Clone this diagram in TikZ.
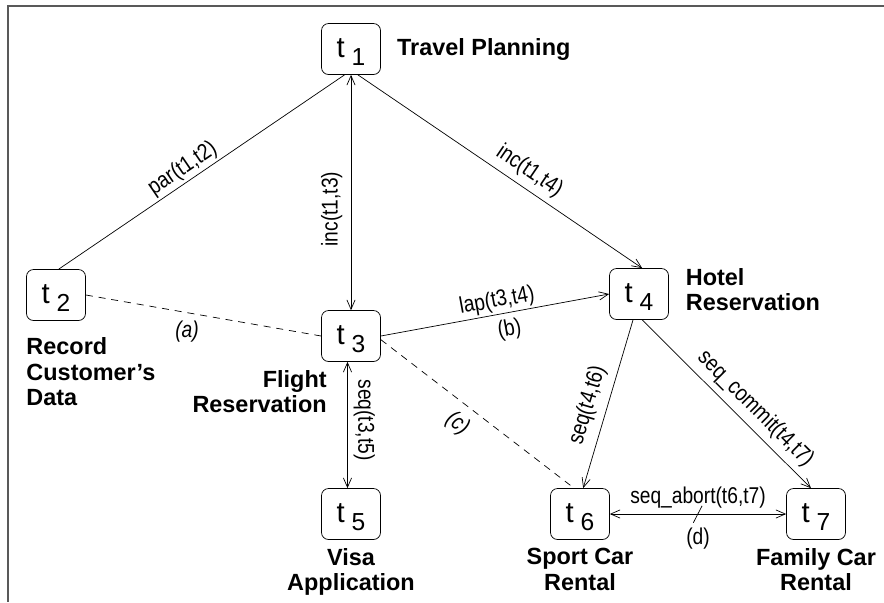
\documentclass[tikz,border=0pt]{standalone}
\usepackage{fontspec}
\setmainfont{Liberation Sans}
\newfontfamily\relfont[FakeStretch=0.84]{Liberation Sans}
\usetikzlibrary{positioning,arrows.meta}

\newcommand*{\tsub}[1]{{\fontsize{25}{27}\selectfont t}~\raisebox{-6.5pt}{#1}}

\begin{document}
\begin{tikzpicture}
[
	x=0.03cm, y=-0.03cm,
	>={Straight Barb[length=8pt,width=7pt]},
	line width=0.6pt,
	task/.style={draw,rounded corners=6pt,minimum width=1.77cm,minimum height=1.53cm,inner sep=0pt,
		text height=21pt,text depth=6pt,font=\fontsize{21}{24}\selectfont},
	taskname/.style={inner sep=0pt,font=\bfseries\fontsize{20}{21.5}\selectfont},
	rel/.style={inner sep=2pt,font=\relfont\fontsize{19.5}{21}\selectfont},
	conflict/.style={inner sep=2pt,font=\relfont\itshape\fontsize{19.5}{21}\selectfont},
	weak/.style={dash pattern=on 6pt off 5pt}
]
	\useasboundingbox (0,0) rectangle (884,602);

	% frame
	\draw[line width=1.4pt, black!65] (884,6) -- (8,6) -- (8,602);

	% tasks
	\node[task] (t1) at (351,49) {\tsub{1}};
	\node[task] (t2) at (56,295) {\tsub{2}};
	\node[task] (t3) at (351,336) {\tsub{3}};
	\node[task] (t4) at (639,294) {\tsub{4}};
	\node[task] (t5) at (351,514) {\tsub{5}};
	\node[task] (t6) at (580,514) {\tsub{6}};
	\node[task] (t7) at (816,514) {\tsub{7}};

	% task names
	\node[taskname, right=0.48cm of t1] (n1) {Travel Planning};
	\node[taskname, align=left, below=0.5cm of t2.south west, anchor=north west] (n2) {Record\\Customer's\\Data};
	\node[taskname, align=right, below=0.25cm of t3.south west, anchor=north east, xshift=5pt] (n3) {Flight\\Reservation};
	\node[taskname, align=left, right=0.5cm of t4, yshift=4pt] (n4) {Hotel\\Reservation};
	\node[taskname, align=center, below=0.25cm of t5] (n5) {Visa\\Application};
	\node[taskname, align=center, below=0.25cm of t6] (n6) {Sport Car\\Rental};
	\node[taskname, align=center, below=0.25cm of t7] (n7) {Family Car\\Rental};

	% relations
	\draw (t2.84) -- node[rel, sloped, above, pos=0.46] {par(t1,t2)} (t1.256);
	\draw[<->] (t3.north) -- node[rel, sloped, above=5pt, pos=0.43] {inc(t1,t3)} (t1.south);
	\draw[->] (t1.-75) -- node[rel, sloped, above=3pt, pos=0.57] {inc(t1,t4)} (t4.83);
	\draw[->] (t3.east) -- node[rel, sloped, above, pos=0.52] {lap(t3,t4)} node[rel, sloped, below=3pt, pos=0.55] {(b)} (t4.west);
	\draw[<->] ([xshift=-3pt]t3.south) -- node[rel, sloped, above=3pt, pos=0.46] {seq(t3,t5)} ([xshift=-3pt]t5.north);
	\draw[<-] (t6.83) -- node[rel, sloped, above=5pt, pos=0.46] {seq(t4,t6)} (t4.-103);
	\draw[->] (t4.-83) -- node[rel, sloped, above=3pt, pos=0.6] {seq\_commit(t4,t7)} (t7.101);
	\draw[<->] (t6.east) -- node[rel, above=3pt] {seq\_abort(t6,t7)} node[rel, below=10pt] {(d)} coordinate[pos=0.5] (abort) (t7.west);
	\draw ([xshift=3.5pt,yshift=7pt]abort) -- ([xshift=-4pt,yshift=-7.5pt]abort);

	% conflicts
	\draw[weak] (t2.east) -- node[conflict, below=5pt, pos=0.43] {(a)} (t3.west);
	\draw[weak] (t3.-7) -- node[conflict, sloped, below=6pt, pos=0.46] {(c)} (t6.103);

\end{tikzpicture}
\end{document}
